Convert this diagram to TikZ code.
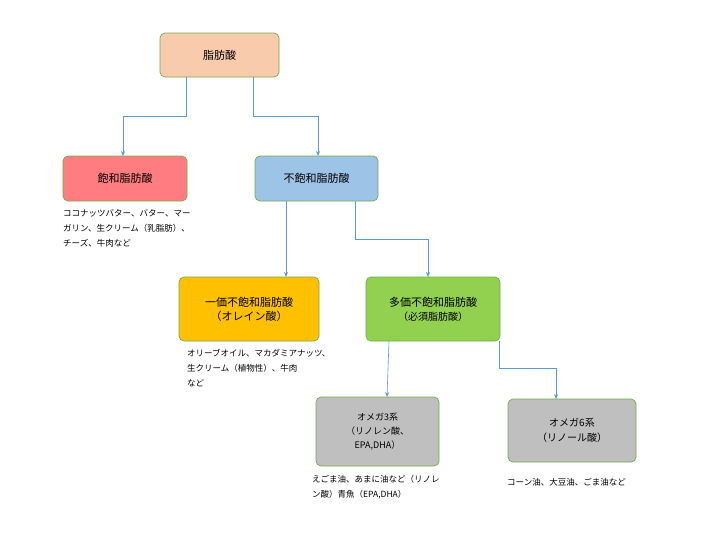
\documentclass[tikz,border=0pt]{standalone}
\usepackage{fontspec}
\setmainfont{Noto Sans CJK JP}
\usetikzlibrary{arrows.meta}
\definecolor{bd}{HTML}{70AD47}
\definecolor{ar}{HTML}{5B9BD5}
\definecolor{ca}{HTML}{F8CBAD}
\definecolor{cb}{RGB}{255,124,128}
\definecolor{cc}{RGB}{157,195,230}
\definecolor{cd}{RGB}{255,192,0}
\definecolor{ce}{RGB}{146,208,80}
\definecolor{cf}{RGB}{191,191,191}
\begin{document}
\begin{tikzpicture}[x=1pt,y=-1pt,
 box/.style={draw=bd,rounded corners=5pt,line width=0.7pt,align=center,font=\fontsize{11}{14}\selectfont,inner sep=0pt},
 captxt/.style={anchor=north west,align=left,font=\fontsize{8.5}{15}\selectfont,inner sep=0pt},
 con/.style={draw=ar,line width=0.6pt,-{Stealth[length=5pt,width=4pt]}}]
\fill[white] (0,0) rectangle (708,533);
\node[box,fill=ca,minimum width=119pt,minimum height=44pt] (a) at (219.5,55) {脂肪酸};
\node[box,fill=cb,minimum width=124pt,minimum height=45pt] (b) at (125,178.5) {飽和脂肪酸};
\node[box,fill=cc,minimum width=123pt,minimum height=45pt] (c) at (316.5,178.5) {不飽和脂肪酸};
\node[box,fill=cd,minimum width=140pt,minimum height=64pt] (d) at (249,309) {一価不飽和脂肪酸\\（オレイン酸）};
\node[box,fill=ce,minimum width=134pt,minimum height=64pt] (e) at (433,309) {多価不飽和脂肪酸\\{\fontsize{10}{14}\selectfont（必須脂肪酸）}};
\node[box,fill=cf,minimum width=123pt,minimum height=69pt,font=\fontsize{9}{14}\selectfont] (f) at (377.5,431.5) {オメガ3系\\（リノレン酸、\\EPA,DHA）};
\node[box,fill=cf,minimum width=128pt,minimum height=63pt,font=\fontsize{10}{15}\selectfont] (g) at (572,430.5) {オメガ6系\\（リノール酸）};
\node[captxt] (tb) at (63,209) {ココナッツバター、バター、マー\\ガリン、生クリーム（乳脂肪）、\\チーズ、牛肉など};
\node[captxt] (td) at (187,349) {オリーブオイル、マカダミアナッツ、\\生クリーム（植物性）、牛肉\\など};
\node[captxt] (tf) at (312,475) {えごま油、あまに油など（リノレ\\ン酸）青魚（EPA,DHA）};
\node[captxt] (tg) at (507,478) {コーン油、大豆油、ごま油など};
\coordinate (a1) at (186,77);
\coordinate (a2) at (253,77);
\draw[con] (a1) -- (186,116) -- (123,116) -- (123,156);
\draw[con] (a2) -- (253,116) -- (318,116) -- (318,156);
\draw[con] (286,201) -- (286,277);
\draw[con] (355,201) -- (355,239) -- (428,239) -- (428,277);
\draw[con] (389,341) -- (387,397);
\draw[con] (499,341) -- (499,368) -- (556,368) -- (556,399);
\end{tikzpicture}
\end{document}
